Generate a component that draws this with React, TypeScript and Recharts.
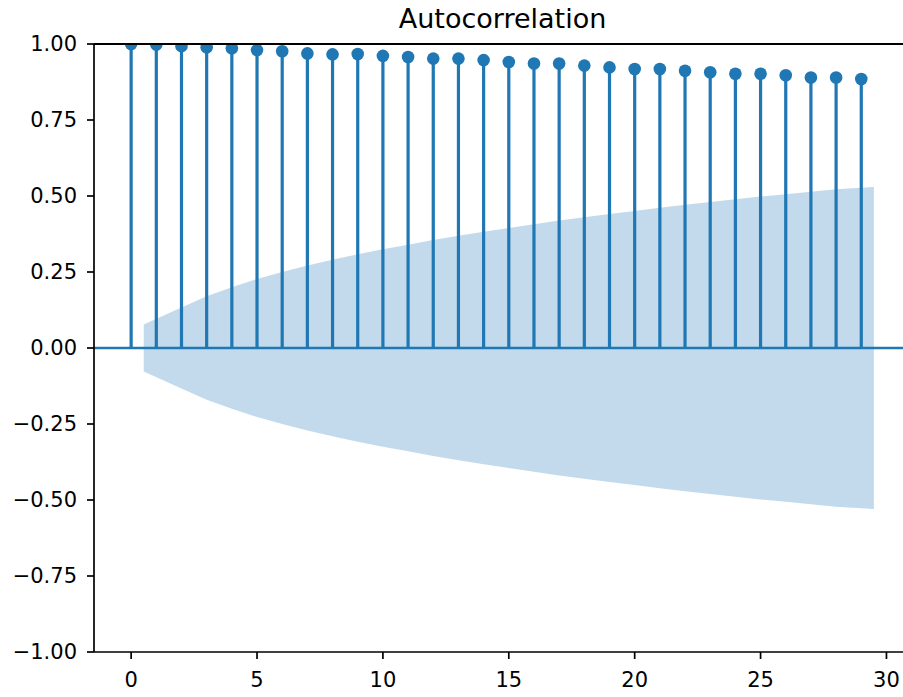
import {
  ComposedChart,
  Area,
  Scatter,
  XAxis,
  YAxis,
  ReferenceLine,
} from 'recharts';

const lags = [
  0, 1, 2, 3, 4, 5, 6, 7, 8, 9, 10, 11, 12, 13, 14, 15, 16, 17, 18, 19, 20,
  21, 22, 23, 24, 25, 26, 27, 28, 29,
];

const acfValues = [
  1.0, 0.998, 0.993, 0.989, 0.986, 0.98, 0.976, 0.969, 0.966, 0.967, 0.961,
  0.957, 0.952, 0.952, 0.947, 0.941, 0.936, 0.936, 0.929, 0.923, 0.918, 0.918,
  0.912, 0.907, 0.902, 0.902, 0.897, 0.89, 0.89, 0.885,
];

// half-width of the confidence band for lags 1..29
const confBand = [
  0.077, 0.133, 0.17, 0.2, 0.227, 0.25, 0.271, 0.29, 0.308, 0.325, 0.34,
  0.355, 0.369, 0.382, 0.395, 0.407, 0.419, 0.43, 0.441, 0.451, 0.461, 0.471,
  0.48, 0.489, 0.498, 0.506, 0.514, 0.522, 0.53,
];

const yTicks = [-1, -0.75, -0.5, -0.25, 0, 0.25, 0.5, 0.75, 1];
const xTicks = [0, 5, 10, 15, 20, 25, 30];

const BLUE = '#1f77b4';
const FONT = '"DejaVu Sans", sans-serif';

const acfData = lags.map((lag, i) => ({ lag, acf: acfValues[i] }));

const bandData = confBand.map((w, i) => {
  let lag = lags[i + 1];
  if (i === 0) lag -= 0.5;
  if (i === confBand.length - 1) lag += 0.5;
  return { lag, band: [-w, w] };
});

const fmtY = (v: number) =>
  v < 0 ? '\u2212' + Math.abs(v).toFixed(2) : v.toFixed(2);

export default function App() {
  return (
    <div
      style={{
        position: 'absolute',
        left: 0,
        top: 0,
        width: 903,
        height: 697,
        overflow: 'hidden',
        background: '#fff',
      }}
    >
      <ComposedChart
        width={920}
        height={697}
        data={bandData}
        margin={{ top: 44, right: 9, bottom: 0, left: 0 }}
      >
        <XAxis
          dataKey="lag"
          type="number"
          domain={[-1.475, 30.975]}
          ticks={xTicks}
          allowDataOverflow
          height={45}
          tickSize={7}
          tickMargin={13}
          stroke="#000"
          strokeWidth={1.7}
          tick={{ fill: '#000', fontSize: 21, fontFamily: FONT }}
        />
        <YAxis
          type="number"
          domain={[-1, 1]}
          ticks={yTicks}
          allowDataOverflow
          width={94}
          tickSize={7}
          tickMargin={10}
          tickFormatter={fmtY}
          stroke="#000"
          strokeWidth={1.7}
          tick={{ fill: '#000', fontSize: 21, fontFamily: FONT }}
        />
        <Area
          dataKey="band"
          type="linear"
          stroke="none"
          fill={BLUE}
          fillOpacity={0.27}
          isAnimationActive={false}
        />
        <ReferenceLine y={0} stroke={BLUE} strokeWidth={2.6} />
        {acfData.map((d) => (
          <ReferenceLine
            key={d.lag}
            segment={[
              { x: d.lag, y: 0 },
              { x: d.lag, y: d.acf },
            ]}
            stroke={BLUE}
            strokeWidth={3.2}
          />
        ))}
        <Scatter
          data={acfData}
          dataKey="acf"
          fill={BLUE}
          isAnimationActive={false}
          shape={(p: any) => <circle cx={p.cx} cy={p.cy} r={6.3} fill={BLUE} />}
        />
      </ComposedChart>
      {/* mask above the plot area, like matplotlib's clipping of markers */}
      <div
        style={{
          position: 'absolute',
          left: 95,
          top: 0,
          width: 808,
          height: 43.2,
          background: '#fff',
        }}
      />
      <div
        style={{
          position: 'absolute',
          left: 94,
          top: 43.2,
          width: 809,
          height: 1.7,
          background: '#000',
        }}
      />
      <div
        style={{
          position: 'absolute',
          left: 0,
          width: 1005,
          top: 4,
          textAlign: 'center',
          fontFamily: FONT,
          fontSize: 27,
          lineHeight: '30px',
          color: '#000',
        }}
      >
        Autocorrelation
      </div>
    </div>
  );
}
